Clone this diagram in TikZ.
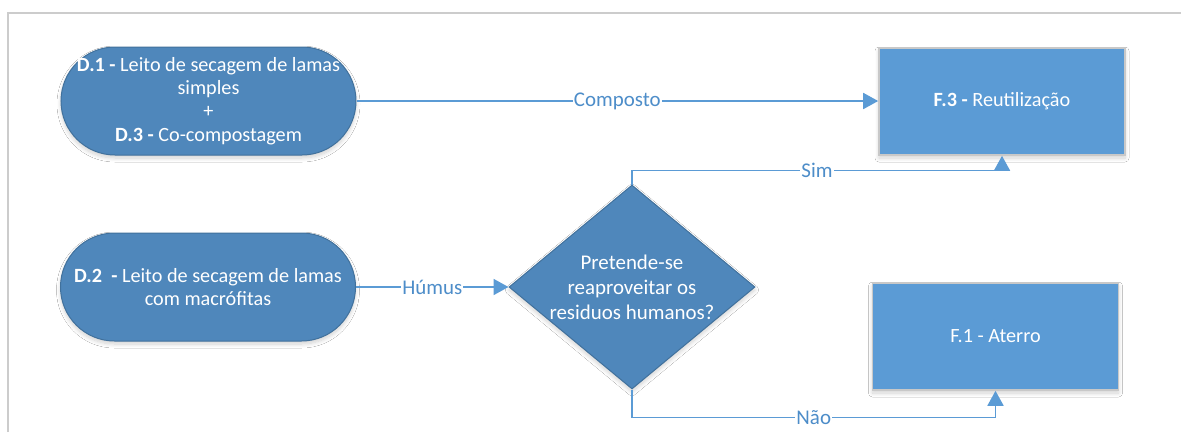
\documentclass[tikz,border=0pt]{standalone}
\usepackage{fontspec}
\setmainfont{Carlito}
\usetikzlibrary{arrows.meta,shapes.geometric,shadows.blur}

\definecolor{termfill}{RGB}{79,135,187}
\definecolor{termline}{RGB}{65,113,156}
\definecolor{boxfill}{RGB}{91,155,213}
\definecolor{boxline}{RGB}{200,200,200}
\definecolor{flow}{RGB}{91,155,213}
\definecolor{flowtext}{RGB}{77,141,201}
\definecolor{frame}{RGB}{204,204,204}

\tikzset{
  softshadow/.style={blur shadow={shadow blur steps=8, shadow xshift=0bp,
      shadow yshift=-3bp, shadow blur radius=4bp, shadow opacity=18}},
  terminal/.style={draw=termline, line width=1bp, fill=termfill, softshadow,
      rounded corners=54bp, minimum width=295bp, minimum height=108bp,
      text=white, align=center, font=\fontsize{20.3}{23.5}\selectfont},
  decision/.style={diamond, draw=termline, line width=1bp, fill=termfill,
      softshadow, minimum width=246bp, minimum height=204bp, inner sep=0pt},
  dectext/.style={text=white, align=center, font=\fontsize{21}{25}\selectfont},
  outbox/.style={draw=boxline, line width=1.6bp, fill=boxfill, softshadow,
      minimum width=246bp, minimum height=107bp, text=white,
      font=\fontsize{20.3}{23.5}\selectfont},
  flowline/.style={draw=flow, line width=1.8bp,
      -{Triangle[length=15bp,width=16bp]}},
  flowlabel/.style={fill=white, inner sep=1bp, text=flowtext,
      font=\fontsize{21}{23}\selectfont},
}

\begin{document}
\begin{tikzpicture}[x=1bp,y=-1bp]
  \useasboundingbox (0,0) rectangle (1181,432);
  \fill[white] (0,0) rectangle (1181,432);

  % page frame
  \draw[frame, line width=2bp] (8,432) -- (8,13) -- (1181,13);

  % sources
  \node[terminal] (d1) at (208.5,101) {\textbf{D.1 -} Leito de secagem de lamas\\simples\\+\\\textbf{D.3 -} Co-compostagem};
  \node[terminal] (d2) at (208,287) {\textbf{D.2\ \ -} Leito de secagem de lamas\\com macrófitas};

  % decision
  \node[decision] (q) at (632,287) {};
  \node[dectext] (qt) at (q.center) {Pretende-se\\reaproveitar os\\residuos humanos?};

  % destinations
  \node[outbox] (f3) at (1002,101.5) {\textbf{F.3 -} Reutilização};
  \node[outbox] (f1) at (995.5,336.5) {F.1 - Aterro};

  % connectors
  \draw[flowline] (d1.east) -- node[flowlabel] {Composto} (d1.east -| f3.west);
  \draw[flowline] (d2.east) -- node[flowlabel] {Húmus} (q.west);
  \draw[flowline] (q.north) -- ++(0,-14) -| node[flowlabel, pos=0.25] {Sim} (f3.south);
  \draw[flowline] (q.south) -- ++(0,28) -| node[flowlabel, pos=0.25] {Não} (f1.south);
\end{tikzpicture}
\end{document}
